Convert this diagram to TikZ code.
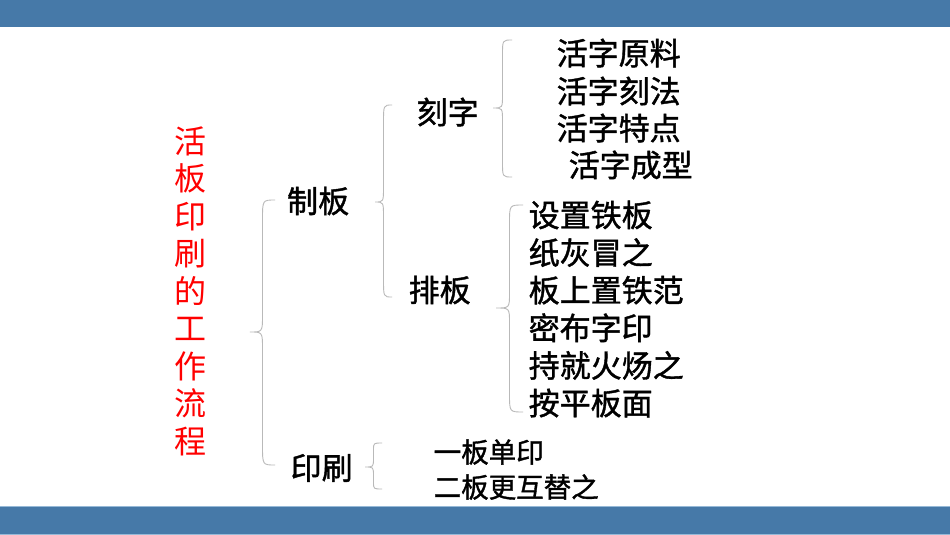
\documentclass[tikz,border=0pt]{standalone}
\usepackage{fontspec}
\setmainfont{Noto Sans CJK SC}
\newfontfamily\heavycjk[FakeBold=1.3]{Noto Sans CJK SC}
\usetikzlibrary{calc}
\definecolor{barblue}{RGB}{70,121,168}
\definecolor{barlight}{RGB}{150,185,215}
\definecolor{bracegray}{RGB}{185,185,185}
\tikzset{
  bracestyle/.style={draw=bracegray, line width=0.9pt},
  lvl/.style={anchor=west, inner sep=0pt, font=\heavycjk\fontsize{31}{31}\selectfont},
  item/.style={anchor=west, inner sep=0pt, font=\heavycjk\fontsize{31}{31}\selectfont},
  smallitem/.style={anchor=west, inner sep=0pt, font=\heavycjk\fontsize{27.5}{27.5}\selectfont},
  titletext/.style={align=center, inner sep=0pt, text=red, font=\fontsize{32}{37.5}\selectfont}
}
\newcommand\pptbrace[5]{%
  \draw[bracestyle] let \p1=(#1),\p2=(#2),\p3=(#3),\n1={(\x1+\x2)/2} in
   (\p1) .. controls (\n1,\y1) .. (\n1,\y1-#4pt)
   -- (\n1,\y2+#5pt) .. controls (\n1,\y2) .. (\p2)
   .. controls (\n1,\y2) .. (\n1,\y2-#5pt)
   -- (\n1,\y3+#4pt) .. controls (\n1,\y3) .. (\p3);}
\begin{document}
\begin{tikzpicture}[x=1pt,y=-1pt]
\useasboundingbox (0,0) rectangle (950,535);
\fill[white] (0,0) rectangle (950,535);
% bars
\fill[barblue] (0,0) rectangle (950,27);
\fill[barblue] (0,506) rectangle (950,534);
\fill[barlight] (0,505.5) rectangle (950,506.5);
\fill[barlight] (0,534) rectangle (950,535);
% title
\node[titletext] (title) at (190,291) {活\\板\\印\\刷\\的\\工\\作\\流\\程};
% level 1
\node[lvl] (zhiban) at (287,201) {制板};
\node[lvl] (yinshua) at (290.5,468) {印刷};
% level 2
\node[lvl] (kezi) at (416.5,112) {刻字};
\node[lvl] (paiban) at (408.5,290) {排板};
% kezi items
\node[item] (k1) at (556.5,53) {活字原料};
\node[item] (k2) at (556.5,91) {活字刻法};
\node[item] (k3) at (556.5,128) {活字特点};
\node[item] (k4) at (568.5,165) {活字成型};
% paiban items
\node[item] (p1) at (528.5,215) {设置铁板};
\node[item] (p2) at (528.5,252.6) {纸灰冒之};
\node[item] (p3) at (528.5,290.2) {板上置铁范};
\node[item] (p4) at (528.5,327.8) {密布字印};
\node[item] (p5) at (528.5,365.4) {持就火炀之};
\node[item] (p6) at (528.5,403) {按平板面};
% yinshua items
\node[smallitem] (y1) at (433.5,452) {一板单印};
\node[smallitem] (y2) at (433.5,487) {二板更互替之};
% brace coordinates
\coordinate (b1t) at (275,200); \coordinate (b1m) at (250,332); \coordinate (b1b) at (275,465);
\coordinate (b2t) at (392,105); \coordinate (b2m) at (375,202); \coordinate (b2b) at (392,297);
\coordinate (b3t) at (512,40);  \coordinate (b3m) at (493,108); \coordinate (b3b) at (512,177);
\coordinate (b4t) at (523,205); \coordinate (b4m) at (496,308); \coordinate (b4b) at (523,412);
\coordinate (b5t) at (382,443); \coordinate (b5m) at (365,467); \coordinate (b5b) at (382,489);
\pptbrace{b1t}{b1m}{b1b}{20}{17}
\pptbrace{b2t}{b2m}{b2b}{18}{15}
\pptbrace{b3t}{b3m}{b3b}{15}{13}
\pptbrace{b4t}{b4m}{b4b}{18}{15}
\pptbrace{b5t}{b5m}{b5b}{7}{9}
\end{tikzpicture}
\end{document}
